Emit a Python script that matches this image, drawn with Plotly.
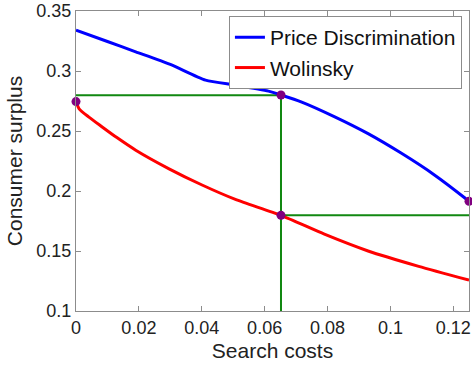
import plotly.graph_objects as go

# Data
pd_x = [0, 0.010, 0.019, 0.030, 0.0412, 0.0507, 0.0612, 0.0652, 0.0718, 0.0823, 0.0929, 0.1034, 0.114, 0.1235, 0.125]
pd_y = [0.334, 0.3246, 0.316, 0.3055, 0.2924, 0.2883, 0.2832, 0.2800, 0.2741, 0.2618, 0.2478, 0.2316, 0.2134, 0.1946, 0.1914]

wol_x = [0, 0.001, 0.004, 0.008, 0.013, 0.019, 0.0296, 0.0401, 0.0507, 0.0652, 0.0790, 0.0929, 0.109, 0.125]
wol_y = [0.2745, 0.2685, 0.2618, 0.2540, 0.2445, 0.2340, 0.2185, 0.2050, 0.1930, 0.1797, 0.1640, 0.1500, 0.1372, 0.1257]

s_star = 0.0652
cs_pd_star = 0.2797
cs_wol_star = 0.1797

marker_x = [0, s_star, s_star, 0.125]
marker_y = [0.2745, 0.2800, cs_wol_star, 0.1914]

x_ticks = [0, 0.02, 0.04, 0.06, 0.08, 0.1, 0.12]
y_ticks = [0.1, 0.15, 0.2, 0.25, 0.3, 0.35]
x_range = [0, 0.125]
y_range = [0.1, 0.35]

FONT = "Liberation Sans, Arial, Helvetica, sans-serif"
GREEN = "#118811"

fig = go.Figure()

# Green guide lines
fig.add_trace(go.Scatter(x=[x_range[0], s_star, s_star], y=[cs_pd_star, cs_pd_star, y_range[0]],
                         mode="lines", line=dict(color=GREEN, width=2), showlegend=False,
                         hoverinfo="skip"))
fig.add_trace(go.Scatter(x=[s_star, x_range[1]], y=[cs_wol_star, cs_wol_star],
                         mode="lines", line=dict(color=GREEN, width=2), showlegend=False,
                         hoverinfo="skip"))

fig.add_trace(go.Scatter(x=pd_x, y=pd_y, mode="lines", name="Price Discrimination",
                         line=dict(color="#0000ff", width=3, shape="spline", smoothing=0.6)))
fig.add_trace(go.Scatter(x=wol_x, y=wol_y, mode="lines", name="Wolinsky",
                         line=dict(color="#ff0000", width=3, shape="spline", smoothing=0.6)))

fig.add_trace(go.Scatter(x=marker_x, y=marker_y, mode="markers",
                         marker=dict(color="#800080", size=9), showlegend=False,
                         cliponaxis=False))

axis_common = dict(showline=True, linecolor="#8c8c8c", linewidth=1, mirror="ticks",
                   ticks="inside", ticklen=5, tickcolor="#8c8c8c", showgrid=False,
                   zeroline=False, tickfont=dict(family=FONT, size=18, color="#222"))

fig.update_xaxes(range=x_range, tickvals=x_ticks, ticktext=[f"{v:g}" for v in x_ticks],
                 ticklabeloverflow="allow",
                 title=dict(text="Search costs", font=dict(family=FONT, size=21, color="#222"),
                            standoff=6),
                 **axis_common)
fig.update_yaxes(range=y_range, tickvals=y_ticks, ticktext=[f"{v:g}" for v in y_ticks],
                 title=dict(text="Consumer surplus", font=dict(family=FONT, size=21, color="#222"),
                            standoff=8),
                 **axis_common)

fig.update_layout(
    width=472, height=370,
    margin=dict(l=76, r=1, t=10, b=59),
    plot_bgcolor="white", paper_bgcolor="white",
    font=dict(family=FONT, color="#111"),
    legend=dict(x=0.982, y=0.983, xanchor="right", yanchor="top",
                bgcolor="white", bordercolor="#8c8c8c", borderwidth=1,
                font=dict(family=FONT, size=21, color="#111"),
                tracegroupgap=0, itemwidth=30),
)

fig.write_html("out.html")
